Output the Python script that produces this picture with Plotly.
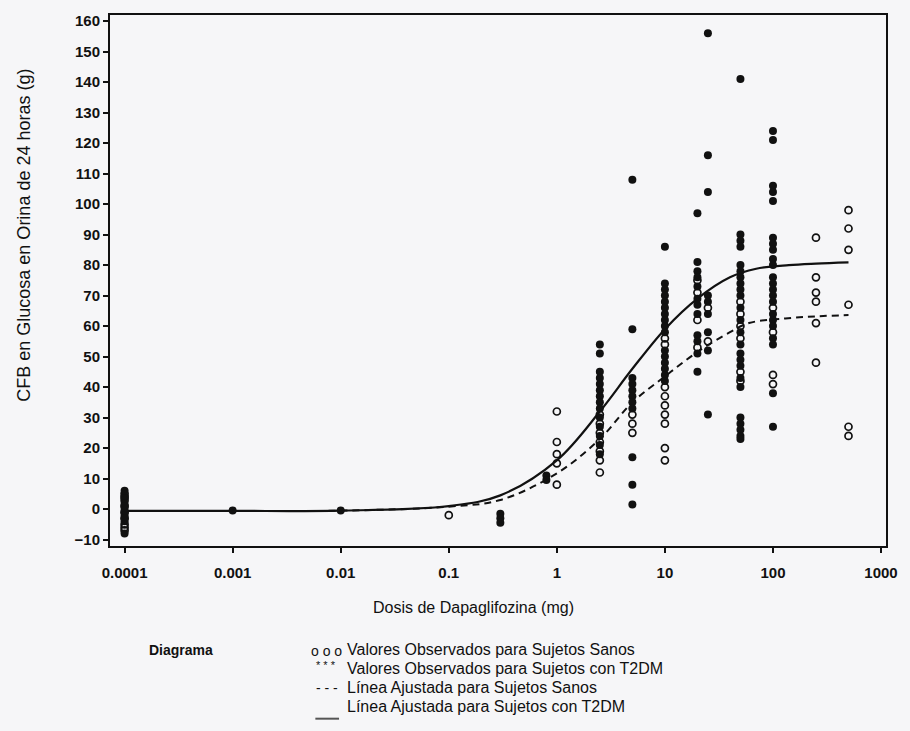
import plotly.graph_objects as go

# ---------------- data ----------------
healthy_dose = ([0.0001] * 9 + [0.1] + [1] * 5 + [2.5] * 7 + [5] * 3 + [10] * 9 +
                [20] * 4 + [25] * 2 + [50] * 6 + [100] * 4 + [250] * 6 + [500] * 6)
healthy_cfb = ([5, 3, 1, -1, -3, -5, -7, 4, -6] + [-2] + [32, 22, 18, 15, 8] +
               [31, 28, 25, 22, 19, 16, 12] + [31, 28, 25] +
               [56, 54, 40, 37, 34, 31, 28, 20, 16] + [75, 71, 62, 53] + [66, 55] +
               [68, 64, 60, 56, 45, 42] + [66, 58, 44, 41] +
               [89, 76, 71, 68, 61, 48] + [98, 92, 85, 67, 27, 24])

t2dm_dose = ([0.0001] * 10 + [0.001] + [0.01] + [0.3] * 3 + [0.8] * 2 + [2.5] * 14 +
             [5] * 11 + [10] * 16 + [20] * 12 + [25] * 9 + [50] * 24 + [100] * 22)
t2dm_cfb = ([4, 2, 0, -1, -2, -4, -3, 6, -8, 1] + [-0.5] + [-0.5] + [-1.5, -3, -4.5] +
            [11, 9.5] +
            [54, 51, 45, 43, 41, 39, 37, 35, 33, 30, 27, 24, 21, 18] +
            [108, 59, 43, 41, 39, 37, 35, 33, 17, 8, 1.5] +
            [86, 74, 72, 70, 68, 66, 64, 62, 60, 58, 52, 50, 48, 46, 44, 42] +
            [97, 81, 78, 76, 73, 69, 67, 64, 57, 55, 51, 45] +
            [156, 116, 104, 70, 68, 64, 58, 52, 31] +
            [141, 90, 88, 86, 80, 78, 76, 74, 72, 70, 66, 62, 58, 54, 51, 49, 47, 43,
             40, 30, 28, 26, 24, 23] +
            [124, 121, 106, 104, 101, 89, 87, 85, 82, 80, 76, 74, 72, 70, 68, 64, 62,
             60, 56, 54, 38, 27])

fit_healthy_dose = [0.0001, 0.001, 0.01, 0.1, 0.3, 1, 2.5, 5, 10, 20, 40, 60, 130, 250, 500]
fit_healthy_cfb = [-0.6, -0.6, -0.5, 0.8, 3, 11.7, 23, 35, 43.5, 51.5, 58, 61, 62.5, 63.2, 63.6]

fit_t2dm_dose = [0.0001, 0.001, 0.01, 0.1, 0.3, 1, 2.5, 5, 10, 20, 40, 70, 140, 250, 500]
fit_t2dm_cfb = [-0.6, -0.6, -0.5, 1.0, 4.5, 16, 32, 46, 59, 69, 76, 78.8, 80, 80.5, 80.9]

x_tickvals = [0.0001, 0.001, 0.01, 0.1, 1, 10, 100, 1000]
x_ticktext = ["0.0001", "0.001", "0.01", "0.1", "1", "10", "100", "1000"]
y_tickvals = list(range(-10, 161, 10))

legend_rows = ["Valores Observados para Sujetos Sanos",
               "Valores Observados para Sujetos con T2DM",
               "Línea Ajustada para Sujetos Sanos",
               "Línea Ajustada para Sujetos con T2DM"]

# ---------------- figure ----------------
INK = "#111111"
BG = "#f6f6f8"
W, H = 910, 731
L, R, T, B = 110, 14, 14, 185
PW, PH = W - L - R, H - T - B


def px(x):
    return (x - L) / PW


def py(y):
    return (H - B - y) / PH


fig = go.Figure()
fig.add_trace(go.Scatter(x=fit_healthy_dose, y=fit_healthy_cfb, mode="lines",
                         line=dict(color=INK, width=2, dash="7px,5px", shape="spline"),
                         hoverinfo="skip"))
fig.add_trace(go.Scatter(x=fit_t2dm_dose, y=fit_t2dm_cfb, mode="lines",
                         line=dict(color=INK, width=2.2, shape="spline"),
                         hoverinfo="skip"))
fig.add_trace(go.Scatter(x=healthy_dose, y=healthy_cfb, mode="markers",
                         marker=dict(symbol="circle-open", size=7, color=INK,
                                     line=dict(color=INK, width=1.7))))
fig.add_trace(go.Scatter(x=t2dm_dose, y=t2dm_cfb, mode="markers",
                         marker=dict(symbol="circle", size=8, color=INK,
                                     line=dict(width=0))))

tickfont = dict(family="Liberation Sans, Arial", size=15, color=INK, weight="bold")
axis_common = dict(showline=True, linecolor=INK, linewidth=2, mirror=True,
                   ticks="outside", ticklen=5, tickwidth=2, tickcolor=INK,
                   showgrid=False, zeroline=False, tickfont=tickfont)

fig.update_layout(
    width=W, height=H,
    margin=dict(l=L, r=R, t=T, b=B),
    plot_bgcolor=BG, paper_bgcolor=BG,
    showlegend=False,
    xaxis=dict(type="log", range=[-4.135, 3.046], tickvals=x_tickvals,
               ticktext=x_ticktext, ticklabelstandoff=7, **axis_common),
    yaxis=dict(range=[-12.1, 162], tickvals=y_tickvals, **axis_common),
)

txt = dict(family="Liberation Sans, Arial", size=16, color=INK)
ann = []
ann.append(dict(text="Dosis de Dapaglifozina (mg)", x=px(478), y=py(608),
                xref="paper", yref="paper", showarrow=False, font=txt,
                xanchor="center", yanchor="middle"))
ann.append(dict(text="CFB en Glucosa en Orina de 24 horas (g)", x=px(22), y=py(235),
                xref="paper", yref="paper", showarrow=False,
                font=dict(family="Liberation Sans, Arial", size=18, color=INK),
                textangle=-90, xanchor="center", yanchor="middle"))
ann.append(dict(text="<b>Diagrama</b>", x=px(147), y=py(650), xref="paper", yref="paper",
                showarrow=False, font=dict(family="Liberation Sans, Arial", size=14, color=INK),
                xanchor="left", yanchor="middle"))
ann.append(dict(text="o o o", x=px(312), y=py(651), xref="paper", yref="paper",
                showarrow=False, font=dict(family="Liberation Sans, Arial", size=14, color=INK),
                xanchor="left", yanchor="middle"))
ann.append(dict(text="* * *", x=px(317), y=py(665), xref="paper", yref="paper",
                showarrow=False, font=dict(family="Liberation Sans, Arial", size=11, color=INK),
                xanchor="left", yanchor="middle"))
ann.append(dict(text="- - -", x=px(317), y=py(688), xref="paper", yref="paper",
                showarrow=False, font=dict(family="Liberation Sans, Arial", size=14, color=INK),
                xanchor="left", yanchor="middle"))
row_x = [348, 348, 348, 348]
row_y = [650, 669, 688, 707]
for label, rx, ry in zip(legend_rows, row_x, row_y):
    ann.append(dict(text=label, x=px(rx), y=py(ry), xref="paper", yref="paper",
                    showarrow=False, font=txt, xanchor="left", yanchor="middle"))
fig.update_layout(annotations=ann)

fig.add_shape(type="line", xref="paper", yref="paper",
              x0=px(318), x1=px(342), y0=py(719), y1=py(719),
              line=dict(color="#555555", width=2))

fig.write_html("out.html")
